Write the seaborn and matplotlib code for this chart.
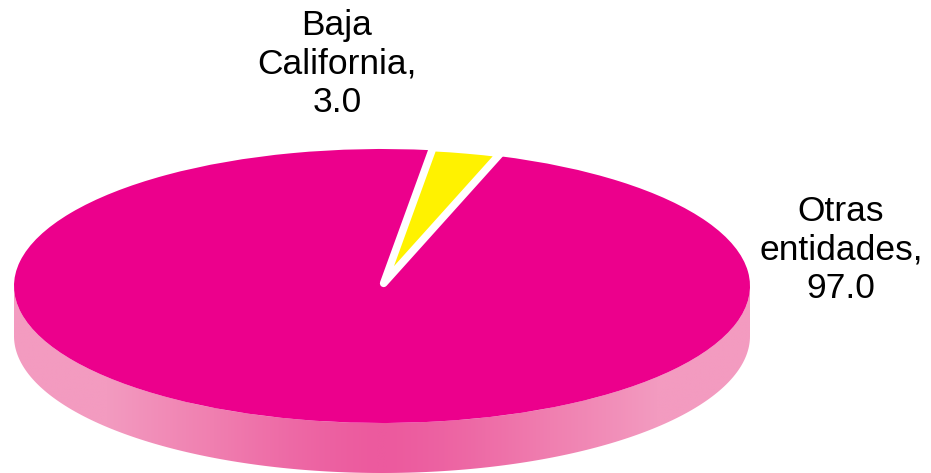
import numpy as np
import matplotlib.pyplot as plt
import seaborn as sns
from matplotlib.patches import Polygon
from matplotlib.colors import LinearSegmentedColormap

# Datos
entidades = ["Baja\nCalifornia", "Otras\nentidades"]
porcentajes = [3.0, 97.0]
colores = ["#FFF200", "#EC008C"]

sns.set_theme(style="white")
plt.rcParams['font.family'] = ['Liberation Sans', 'DejaVu Sans']

fig = plt.figure(figsize=(9.31, 4.73), dpi=100)
ax = fig.add_axes([0, 0, 1, 1])

# Geometria del "pastel 3D" (pixeles)
rx, ry = 368, 137
cx, cy = 382, 187
grosor = 50 / ry

wedges, _ = ax.pie(porcentajes, colors=colores, startangle=71.5, counterclock=True,
                   explode=[0.02, 0])
wedges[1].set_linewidth(0)
wedges[1].set_zorder(3)
wedges[0].set_edgecolor("white")
wedges[0].set_linewidth(5.5)
wedges[0].set_joinstyle("round")
wedges[0].set_zorder(4)

# Lado del cilindro con degradado
theta = np.linspace(np.pi, 2 * np.pi, 200)
arriba = np.column_stack([np.cos(theta), np.sin(theta)])
abajo = np.column_stack([np.cos(theta[::-1]), np.sin(theta[::-1]) - grosor])
lado = Polygon(np.vstack([arriba, abajo]), closed=True, fill=False, lw=0)
ax.add_patch(lado)

cmap = LinearSegmentedColormap.from_list("lado", ["#EC5A9E", "#F07FB0", "#F39BC0"])
xs = np.linspace(-1, 1, 400)
grad = (np.clip(np.abs(xs) / 0.75, 0, 1) ** 1.4)[None, :]
img = ax.imshow(grad, cmap=cmap, extent=[-1, 1, -1 - grosor, 0], aspect="auto",
                zorder=1, vmin=0, vmax=1, interpolation="bilinear")
img.set_clip_path(lado)

ax.set_aspect("auto")
ax.set_xlim(-cx / rx, (931 - cx) / rx)
ax.set_ylim(-cy / ry, (473 - cy) / ry)
ax.axis("off")

# Etiquetas
etiquetas = [f"{e},\n{v:.1f}" for e, v in zip(entidades, porcentajes)]
fig.text(337 / 931, 1 - 64 / 473, etiquetas[0], ha="center", va="center",
         fontsize=25.5, color="black")
fig.text(841 / 931, 1 - 250 / 473, etiquetas[1], ha="center", va="center",
         fontsize=25.5, color="black")

fig.savefig("out.png", dpi=100, facecolor="white")
